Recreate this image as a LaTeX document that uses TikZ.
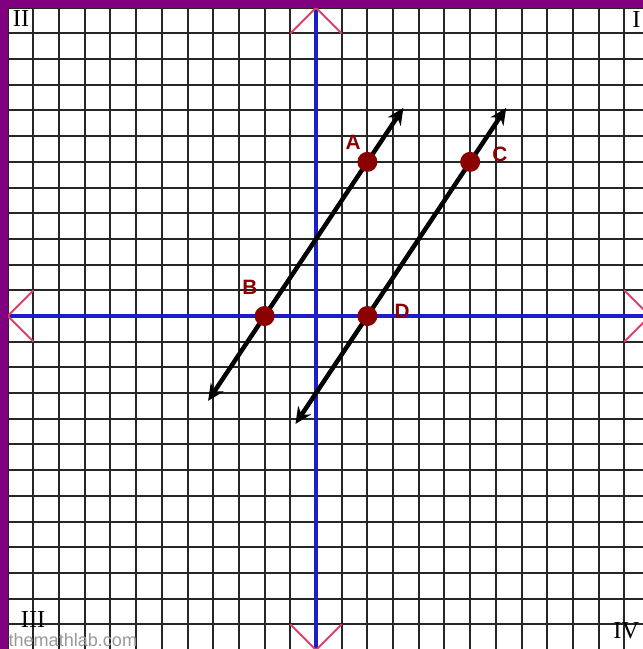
\documentclass[tikz,border=0pt]{standalone}
\usepackage{fontspec}
\setmainfont{Liberation Serif}
\setsansfont{Liberation Sans}
\usetikzlibrary{arrows.meta, positioning}
\definecolor{axisblue}{RGB}{30, 30, 200}
\definecolor{pointred}{RGB}{139, 0, 0}
\definecolor{markpink}{RGB}{222, 64, 104}
\definecolor{borderpurple}{RGB}{128, 0, 128}

\begin{document}
\begin{tikzpicture}[
    x=0.5cm, y=0.5cm,
    >={Stealth[length=3.2mm, width=3mm]},
    gridline/.style={draw=black!85, line width=1.1pt},
    axisline/.style={draw=axisblue, line width=2.4pt},
    endmark/.style={draw=markpink, line width=1.1pt},
    parline/.style={<->, line width=2.5pt, black},
    ptdot/.style={circle, fill=pointred, inner sep=0pt, minimum size=0.39cm},
    ptlabel/.style={font=\fontsize{11.5}{13}\sffamily\bfseries, text=pointred, inner sep=0pt},
    quadlabel/.style={font=\fontsize{13.5}{15}\selectfont, inner sep=0pt},
]
    \useasboundingbox (-12.3,-12.96) rectangle (12.72,12.3);
    \clip (-12.3,-12.96) rectangle (12.72,12.3);

    % grid and axes
    \draw[gridline, step=1] (-12.3,-12.96) grid (12.72,12.3);
    \coordinate (xl) at (-12,0);
    \coordinate (xr) at (13,0);
    \coordinate (yt) at (0,12);
    \coordinate (yb) at (0,-13);
    \draw[axisline] (xl) -- (xr);
    \draw[axisline] (yt) -- (yb);
    \draw[endmark] (-11,1) -- (xl) -- (-11,-1);
    \draw[endmark] (12,1) -- (xr) -- (12,-1);
    \draw[endmark] (-1,11) -- (yt) -- (1,11);
    \draw[endmark] (-1,-12) -- (yb) -- (1,-12);

    % border
    \fill[borderpurple] (-12.3,-12.96) rectangle (-11.97,12.3);
    \fill[borderpurple] (-12.3,11.97) rectangle (12.72,12.3);

    % parallel lines
    \coordinate (ab-lo) at (-4.2,-3.3);
    \coordinate (ab-hi) at (3.4,8.1);
    \coordinate (cd-lo) at (-0.8,-4.2);
    \coordinate (cd-hi) at (7.4,8.1);
    \draw[parline] (ab-lo) -- (ab-hi);
    \draw[parline] (cd-lo) -- (cd-hi);

    \node[ptdot] (A) at (2,6) {};
    \node[ptdot] (B) at (-2,0) {};
    \node[ptdot] (C) at (6,6) {};
    \node[ptdot] (D) at (2,0) {};

    \node[ptlabel] (labA) at (1.44,6.77) {A};
    \node[ptlabel] (labB) at (-2.57,1.13) {B};
    \node[ptlabel] (labC) at (7.16,6.3) {C};
    \node[ptlabel] (labD) at (3.35,0.19) {D};

    % quadrants
    \node[quadlabel] (q1) at (12.47,11.54) {I};
    \node[quadlabel] (q2) at (-11.48,11.56) {II};
    \node[quadlabel] (q3) at (-11.01,-11.81) {III};
    \node[quadlabel, anchor=west] (q4) at (11.56,-12.26) {IV};

    \node[anchor=west, inner sep=0pt, font=\fontsize{10}{12}\sffamily, text=black!40] (mark) at (-11.98,-12.6) {themathlab.com};
\end{tikzpicture}
\end{document}
